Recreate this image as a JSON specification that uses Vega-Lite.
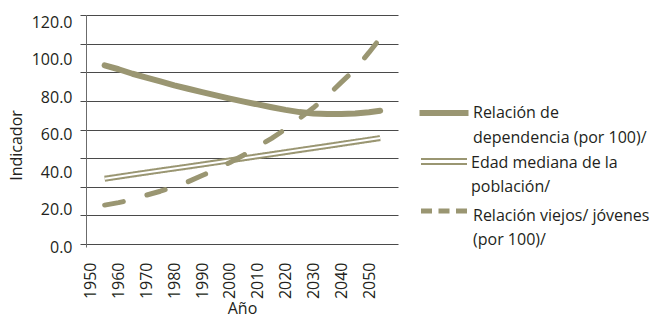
{
  "$schema": "https://vega.github.io/schema/vega-lite/v6.json",
  "width": 312,
  "height": 232,
  "autosize": {"type": "none"},
  "padding": {"left": 86, "top": 15, "right": 254, "bottom": 72},
  "background": "white",
  "config": {
    "view": {"stroke": null},
    "font": "Open Sans",
    "axis": {"labelFont": "Open Sans", "titleFont": "Open Sans", "labelFontSize": 16, "titleFontSize": 16, "titleFontWeight": "normal", "labelColor": "#231f20", "titleColor": "#231f20", "labelOverlap": false},
    "legend": {"labelFont": "Open Sans", "labelFontSize": 16, "labelColor": "#231f20", "labelLimit": 400, "labelBaseline": "top", "padding": 0, "title": null, "orient": "none"}
  },
  "data": {
    "values": [
      {"serie": "Relación de dependencia (por 100)/", "anio": 1955, "valor": 97.1},
      {"serie": "Relación de dependencia (por 100)/", "anio": 1960, "valor": 95.0},
      {"serie": "Relación de dependencia (por 100)/", "anio": 1965, "valor": 92.6},
      {"serie": "Relación de dependencia (por 100)/", "anio": 1970, "valor": 90.5},
      {"serie": "Relación de dependencia (por 100)/", "anio": 1975, "valor": 88.5},
      {"serie": "Relación de dependencia (por 100)/", "anio": 1980, "valor": 86.4},
      {"serie": "Relación de dependencia (por 100)/", "anio": 1985, "valor": 84.6},
      {"serie": "Relación de dependencia (por 100)/", "anio": 1990, "valor": 82.8},
      {"serie": "Relación de dependencia (por 100)/", "anio": 1995, "valor": 81.0},
      {"serie": "Relación de dependencia (por 100)/", "anio": 2000, "valor": 79.3},
      {"serie": "Relación de dependencia (por 100)/", "anio": 2005, "valor": 77.7},
      {"serie": "Relación de dependencia (por 100)/", "anio": 2010, "valor": 76.2},
      {"serie": "Relación de dependencia (por 100)/", "anio": 2015, "valor": 74.7},
      {"serie": "Relación de dependencia (por 100)/", "anio": 2020, "valor": 73.3},
      {"serie": "Relación de dependencia (por 100)/", "anio": 2025, "valor": 72.1},
      {"serie": "Relación de dependencia (por 100)/", "anio": 2030, "valor": 71.4},
      {"serie": "Relación de dependencia (por 100)/", "anio": 2035, "valor": 71.1},
      {"serie": "Relación de dependencia (por 100)/", "anio": 2040, "valor": 71.1},
      {"serie": "Relación de dependencia (por 100)/", "anio": 2045, "valor": 71.4},
      {"serie": "Relación de dependencia (por 100)/", "anio": 2050, "valor": 72.0},
      {"serie": "Relación de dependencia (por 100)/", "anio": 2054, "valor": 72.8},
      {"serie": "Edad mediana de la población/", "anio": 1955, "valor": 36.5},
      {"serie": "Edad mediana de la población/", "anio": 1965, "valor": 38.7},
      {"serie": "Edad mediana de la población/", "anio": 1975, "valor": 40.9},
      {"serie": "Edad mediana de la población/", "anio": 1985, "valor": 43.0},
      {"serie": "Edad mediana de la población/", "anio": 1995, "valor": 45.2},
      {"serie": "Edad mediana de la población/", "anio": 2005, "valor": 47.4},
      {"serie": "Edad mediana de la población/", "anio": 2015, "valor": 49.6},
      {"serie": "Edad mediana de la población/", "anio": 2025, "valor": 51.8},
      {"serie": "Edad mediana de la población/", "anio": 2035, "valor": 54.0},
      {"serie": "Edad mediana de la población/", "anio": 2045, "valor": 56.2},
      {"serie": "Edad mediana de la población/", "anio": 2054, "valor": 58.2},
      {"serie": "Relación viejos/ jóvenes (por 100)/", "anio": 1955, "valor": 22.4},
      {"serie": "Relación viejos/ jóvenes (por 100)/", "anio": 1960, "valor": 23.7},
      {"serie": "Relación viejos/ jóvenes (por 100)/", "anio": 1965, "valor": 25.4},
      {"serie": "Relación viejos/ jóvenes (por 100)/", "anio": 1970, "valor": 27.7},
      {"serie": "Relación viejos/ jóvenes (por 100)/", "anio": 1975, "valor": 29.8},
      {"serie": "Relación viejos/ jóvenes (por 100)/", "anio": 1980, "valor": 32.2},
      {"serie": "Relación viejos/ jóvenes (por 100)/", "anio": 1985, "valor": 34.9},
      {"serie": "Relación viejos/ jóvenes (por 100)/", "anio": 1990, "valor": 38.2},
      {"serie": "Relación viejos/ jóvenes (por 100)/", "anio": 1995, "valor": 41.6},
      {"serie": "Relación viejos/ jóvenes (por 100)/", "anio": 2000, "valor": 45.2},
      {"serie": "Relación viejos/ jóvenes (por 100)/", "anio": 2005, "valor": 49.2},
      {"serie": "Relación viejos/ jóvenes (por 100)/", "anio": 2010, "valor": 53.6},
      {"serie": "Relación viejos/ jóvenes (por 100)/", "anio": 2015, "valor": 58.1},
      {"serie": "Relación viejos/ jóvenes (por 100)/", "anio": 2020, "valor": 63.0},
      {"serie": "Relación viejos/ jóvenes (por 100)/", "anio": 2025, "valor": 68.7},
      {"serie": "Relación viejos/ jóvenes (por 100)/", "anio": 2030, "valor": 74.4},
      {"serie": "Relación viejos/ jóvenes (por 100)/", "anio": 2035, "valor": 80.8},
      {"serie": "Relación viejos/ jóvenes (por 100)/", "anio": 2040, "valor": 88.0},
      {"serie": "Relación viejos/ jóvenes (por 100)/", "anio": 2045, "valor": 95.0},
      {"serie": "Relación viejos/ jóvenes (por 100)/", "anio": 2050, "valor": 104.0},
      {"serie": "Relación viejos/ jóvenes (por 100)/", "anio": 2054, "valor": 111.6}
    ]
  },
  "layer": [
    {
      "transform": [{"filter": "datum.serie == 'Edad mediana de la población/'"}],
      "mark": {"type": "line", "color": "#9a9672", "strokeWidth": 6, "strokeJoin": "round"},
      "encoding": {
        "x": {
          "field": "anio", "type": "quantitative",
          "scale": {"domain": [1948.3, 2060.4], "nice": false, "zero": false},
          "axis": {
            "values": [1950, 1960, 1970, 1980, 1990, 2000, 2010, 2020, 2030, 2040, 2050],
            "format": "d", "labelAngle": 270, "labelAlign": "right", "labelBaseline": "middle",
            "labelPadding": 15, "ticks": false, "tickSize": 0, "domain": false, "grid": false,
            "labelFlush": false, "labelOverlap": false, "labelBound": false,
            "title": "Año", "titleX": 156, "titleY": 66, "titleBaseline": "alphabetic", "titleAlign": "center"
          }
        },
        "y": {
          "field": "valor", "type": "quantitative",
          "scale": {"domain": [0, 124], "nice": false, "zero": true},
          "axis": {
            "orient": "left",
            "values": [1.6, 16.9, 32.2, 47.5, 62.8, 78.1, 93.4, 108.7, 124],
            "grid": true, "gridColor": "#4a4a4a", "gridWidth": 1, "gridOpacity": 1,
            "ticks": true, "tickSize": 6, "tickColor": "#4a4a4a", "tickWidth": 1,
            "labels": false, "domain": true, "domainColor": "#6b6b6b", "domainWidth": 1,
            "title": null
          }
        },
        "strokeDash": {
          "field": "serie", "type": "nominal",
          "scale": {"domain": ["Edad mediana de la población/"], "range": [[1, 0]]},
          "legend": {
            "legendX": 334, "legendY": 122.5, "labelOffset": 3,
            "symbolType": "M-1,-0.11H1M-1,0.11H1", "symbolSize": 2116, "symbolStrokeWidth": 2,
            "symbolStrokeColor": "#9a9672",
            "labelExpr": "['Edad mediana de la', 'población/']",
            "encode": {"labels": {"update": {"lineHeight": {"value": 24}, "dy": {"value": -7}}}}
          }
        }
      }
    },
    {
      "transform": [{"filter": "datum.serie == 'Edad mediana de la población/'"}],
      "mark": {"type": "line", "color": "white", "strokeWidth": 2, "strokeCap": "butt"},
      "encoding": {
        "x": {
          "field": "anio", "type": "quantitative",
          "axis": {
            "values": [1950, 1960, 1970, 1980, 1990, 2000, 2010, 2020, 2030, 2040, 2050],
            "format": "d", "labelAngle": 270, "labelAlign": "right", "labelBaseline": "middle",
            "labelPadding": 15, "ticks": false, "tickSize": 0, "domain": false, "grid": false,
            "labelFlush": false, "labelOverlap": false, "labelBound": false,
            "title": "Año", "titleX": 156, "titleY": 66, "titleBaseline": "alphabetic", "titleAlign": "center"
          }
        },
        "y": {
          "field": "valor", "type": "quantitative",
          "axis": {
            "orient": "left",
            "values": [0, 20, 40, 60, 80, 100, 120],
            "format": ".1f", "grid": false, "ticks": false, "tickSize": 0, "domain": false,
            "labelPadding": 14, "labelFlush": false, "labelOverlap": false, "labelBound": false,
            "title": "Indicador", "titleX": -70, "titleY": 130, "titleAlign": "center", "titleBaseline": "middle", "titleAngle": 270
          }
        }
      }
    },
    {
      "transform": [{"filter": "datum.serie == 'Relación de dependencia (por 100)/'"}],
      "mark": {"type": "line", "strokeWidth": 6, "strokeCap": "round", "strokeJoin": "round"},
      "encoding": {
        "x": {
          "field": "anio", "type": "quantitative",
          "axis": {
            "values": [1950, 1960, 1970, 1980, 1990, 2000, 2010, 2020, 2030, 2040, 2050],
            "format": "d", "labelAngle": 270, "labelAlign": "right", "labelBaseline": "middle",
            "labelPadding": 15, "ticks": false, "tickSize": 0, "domain": false, "grid": false,
            "labelFlush": false, "labelOverlap": false, "labelBound": false,
            "title": "Año", "titleX": 156, "titleY": 66, "titleBaseline": "alphabetic", "titleAlign": "center"
          }
        },
        "y": {"field": "valor", "type": "quantitative", "axis": null},
        "color": {
          "field": "serie", "type": "nominal",
          "scale": {"domain": ["Relación de dependencia (por 100)/"], "range": ["#9a9672"]},
          "legend": {
            "legendX": 330.5, "legendY": 70.5, "labelOffset": 1.5,
            "symbolType": "M-1,0H1", "symbolSize": 2401, "symbolStrokeWidth": 6,
            "labelExpr": "['Relación de', 'dependencia (por 100)/']",
            "encode": {"labels": {"update": {"lineHeight": {"value": 25}, "dy": {"value": -8}}}}
          }
        }
      }
    },
    {
      "transform": [{"filter": "datum.serie == 'Relación viejos/ jóvenes (por 100)/'"}],
      "mark": {"type": "line", "strokeWidth": 5, "strokeCap": "round", "strokeJoin": "round"},
      "encoding": {
        "x": {
          "field": "anio", "type": "quantitative",
          "axis": {
            "values": [1950, 1960, 1970, 1980, 1990, 2000, 2010, 2020, 2030, 2040, 2050],
            "format": "d", "labelAngle": 270, "labelAlign": "right", "labelBaseline": "middle",
            "labelPadding": 15, "ticks": false, "tickSize": 0, "domain": false, "grid": false,
            "labelFlush": false, "labelOverlap": false, "labelBound": false,
            "title": "Año", "titleX": 156, "titleY": 66, "titleBaseline": "alphabetic", "titleAlign": "center"
          }
        },
        "y": {"field": "valor", "type": "quantitative", "axis": null},
        "strokeDash": {"value": [19, 24.5]},
        "stroke": {
          "field": "serie", "type": "nominal",
          "scale": {"domain": ["Relación viejos/ jóvenes (por 100)/"], "range": ["#9a9672"]},
          "legend": {
            "legendX": 332.5, "legendY": 170.5, "labelOffset": 3.5,
            "symbolType": "M-1,0H1", "symbolSize": 2116, "symbolStrokeWidth": 5, "symbolDash": [11, 6.5],
            "labelExpr": "['Relación viejos/ jóvenes', '(por 100)/']",
            "encode": {"labels": {"update": {"lineHeight": {"value": 24}, "dy": {"value": -3}}}}
          }
        }
      }
    }
  ],
  "resolve": {"axis": {"y": "independent"}}
}
